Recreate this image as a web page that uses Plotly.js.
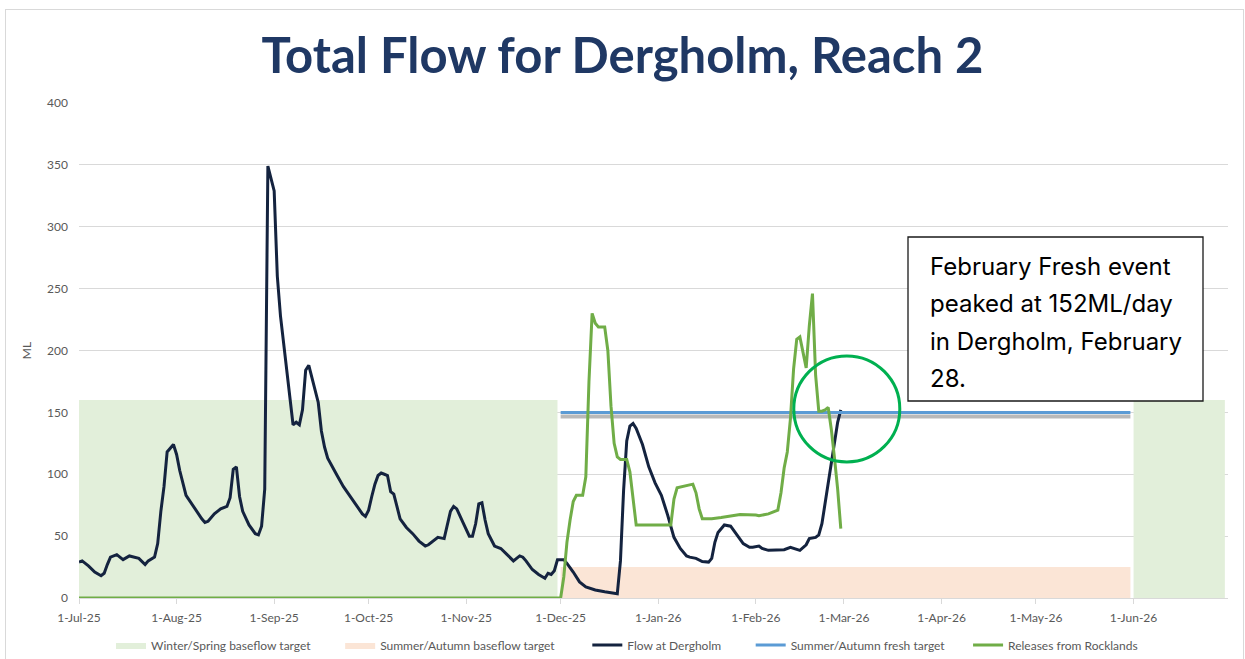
<!DOCTYPE html>
<html>
<head>
<meta charset="utf-8">
<script src="https://cdn.plot.ly/plotly-3.0.1.min.js"></script>
<style>
html,body{margin:0;padding:0;background:#fff;}
#chart{width:1245px;height:659px;}
#frame{position:absolute;left:5px;top:9px;width:1237px;height:700px;border:1px solid #d9d9d9;pointer-events:none;}
</style>
</head>
<body>
<div id="chart"></div>
<div id="frame"></div>
<script>
// ---------- data ----------
const flowDates = ['2025-07-01','2025-07-02','2025-07-04','2025-07-06','2025-07-08','2025-07-09','2025-07-10','2025-07-11','2025-07-13','2025-07-15','2025-07-17','2025-07-19','2025-07-20','2025-07-22','2025-07-23','2025-07-25','2025-07-26','2025-07-27','2025-07-28','2025-07-29','2025-07-31',
'2025-08-01','2025-08-02','2025-08-04','2025-08-05','2025-08-07','2025-08-09','2025-08-10','2025-08-11','2025-08-13','2025-08-15','2025-08-17','2025-08-18','2025-08-19','2025-08-20','2025-08-21','2025-08-22','2025-08-24','2025-08-26','2025-08-27','2025-08-28','2025-08-29','2025-08-30',
'2025-09-01','2025-09-02','2025-09-03','2025-09-04','2025-09-05','2025-09-06','2025-09-07','2025-09-08','2025-09-09','2025-09-10','2025-09-11','2025-09-12','2025-09-13','2025-09-14','2025-09-15','2025-09-16','2025-09-17','2025-09-18','2025-09-19','2025-09-21','2025-09-23','2025-09-25','2025-09-27','2025-09-29','2025-09-30',
'2025-10-01','2025-10-02','2025-10-03','2025-10-04','2025-10-05','2025-10-06','2025-10-07','2025-10-08','2025-10-09','2025-10-10','2025-10-11','2025-10-13','2025-10-15','2025-10-17','2025-10-19','2025-10-20','2025-10-21','2025-10-23','2025-10-25','2025-10-26','2025-10-27','2025-10-28','2025-10-29','2025-10-31',
'2025-11-02','2025-11-03','2025-11-04','2025-11-05','2025-11-06','2025-11-07','2025-11-08','2025-11-10','2025-11-12','2025-11-14','2025-11-16','2025-11-18','2025-11-19','2025-11-20','2025-11-22','2025-11-24','2025-11-26','2025-11-27','2025-11-28','2025-11-29','2025-11-30',
'2025-12-02','2025-12-03','2025-12-05','2025-12-07','2025-12-09','2025-12-12','2025-12-15','2025-12-18','2025-12-19','2025-12-20','2025-12-21','2025-12-22','2025-12-23','2025-12-24','2025-12-25','2025-12-27','2025-12-29','2025-12-31',
'2026-01-02','2026-01-04','2026-01-06','2026-01-08','2026-01-10','2026-01-11','2026-01-13','2026-01-15','2026-01-17','2026-01-18','2026-01-19','2026-01-20','2026-01-22','2026-01-24','2026-01-26','2026-01-28','2026-01-30','2026-01-31',
'2026-02-02','2026-02-03','2026-02-05','2026-02-08','2026-02-10','2026-02-12','2026-02-13','2026-02-15','2026-02-17','2026-02-18','2026-02-20','2026-02-21','2026-02-22','2026-02-23','2026-02-24','2026-02-25','2026-02-26','2026-02-27','2026-02-28'];
const flowValues = [29,30,26,21,18,20,27,33,35,31,34,33,32,27,30,33,44,70,90,118,124,
116,103,83,79,71,64,61,62,68,72,74,81,104,106,82,70,59,52,51,58,88,349,
329,260,228,206,180,158,140,142,140,152,184,188,178,168,158,135,122,113,108,99,90,83,76,68,66,
71,82,92,99,101,100,99,86,84,74,64,57,52,46,42,43,45,49,48,58,70,74,72,61,
50,50,60,76,77,63,52,42,40,35,30,34,33,30,23,19,16,20,19,22,31,
31,28,21,13,9,6.5,5,3.5,3.5,30,87,127,139,141,137,124,106,93,
83,67,49,40,34,33,32,29.5,29,32,45,53,59,58,51,44,41,41,
42,40,38.5,39,39,41,40,38.5,43,48,49,51,60,77,92,110,128,142,152];

const releaseDates = ['2025-07-01','2025-12-01','2025-12-02','2025-12-03','2025-12-04','2025-12-05','2025-12-06','2025-12-08','2025-12-09','2025-12-10','2025-12-11','2025-12-12','2025-12-13','2025-12-15','2025-12-16','2025-12-17','2025-12-18','2025-12-19','2025-12-20','2025-12-22','2025-12-23','2025-12-24','2025-12-25',
'2026-01-05','2026-01-06','2026-01-07','2026-01-12','2026-01-13','2026-01-14','2026-01-15','2026-01-18','2026-01-21','2026-01-25','2026-01-27',
'2026-02-01','2026-02-02','2026-02-05','2026-02-08','2026-02-09','2026-02-10','2026-02-11','2026-02-12','2026-02-13','2026-02-14','2026-02-15','2026-02-16','2026-02-17','2026-02-18','2026-02-19','2026-02-20','2026-02-21','2026-02-22','2026-02-23','2026-02-24','2026-02-25','2026-02-26','2026-02-27','2026-02-28'];
const releaseValues = [0,0,17,45,63,78,83,83,98,175,230,222,219,219,200,155,125,114,112,112,102,78,59,
59,80,89,92,85,72,64,64,65,67,67.5,
67,66.5,68,71,85,105,118,145,185,209,211,197,186,220,246,180,151,151,152,154,136,113,88,56];

const winterDates1 = ['2025-07-01','2025-11-30'];
const winterValues1 = [160,160];
const winterDates2 = ['2026-06-01','2026-06-30'];
const winterValues2 = [160,160];
const summerDates = ['2025-12-01','2026-05-31'];
const summerValues = [25,25];
const freshDates = ['2025-12-01','2026-05-31'];
const freshValues = [150,150];

const seriesNames = ['Winter/Spring baseflow target','Summer/Autumn baseflow target','Flow at Dergholm','Summer/Autumn fresh target','Releases from Rocklands'];

const tickDates = ['2025-07-01','2025-08-01','2025-09-01','2025-10-01','2025-11-01','2025-12-01','2026-01-01','2026-02-01','2026-03-01','2026-04-01','2026-05-01','2026-06-01'];
const tickLabels = ['1-Jul-25','1-Aug-25','1-Sep-25','1-Oct-25','1-Nov-25','1-Dec-25','1-Jan-26','1-Feb-26','1-Mar-26','1-Apr-26','1-May-26','1-Jun-26'];

const noteLines = ['February Fresh event','peaked at 152ML/day','in Dergholm, February','28.'];

// ---------- traces ----------
const pad = n => '\u00a0'.repeat(n);
const greenFill = '#E2EFDA', peachFill = '#FBE5D6';
const traces = [
  {x: winterDates1, y: winterValues1, type:'scatter', mode:'lines', fill:'tozeroy', fillcolor:greenFill,
   line:{width:0,color:greenFill}, name:seriesNames[0] + pad(8), legendgroup:'ws', yaxis:'y'},
  {x: winterDates2, y: winterValues2, type:'scatter', mode:'lines', fill:'tozeroy', fillcolor:greenFill,
   line:{width:0,color:greenFill}, name:seriesNames[0], legendgroup:'ws', showlegend:false, yaxis:'y'},
  {x: summerDates, y: summerValues, type:'scatter', mode:'lines', fill:'tozeroy', fillcolor:peachFill,
   line:{width:0,color:peachFill}, name:seriesNames[1] + pad(9), yaxis:'y'},
  {x: freshDates, y: freshValues, type:'scatter', mode:'lines', line:{width:4,color:'rgba(100,100,100,0.45)'},
   showlegend:false, yaxis:'y2'},
  {x: flowDates, y: flowValues, type:'scatter', mode:'lines', line:{width:3,color:'#14233f'},
   name:seriesNames[2] + pad(8), yaxis:'y3'},
  {x: freshDates, y: freshValues, type:'scatter', mode:'lines', line:{width:3,color:'#5B9BD5'},
   name:seriesNames[3] + pad(6), yaxis:'y3'},
  {x: releaseDates, y: releaseValues, type:'scatter', mode:'lines', line:{width:3,color:'#70AD47'},
   name:seriesNames[4], yaxis:'y3'}
];

const L = 79, R = 17, T = 103, B = 61;
const PW = 1245 - L - R, PH = 659 - T - B;
const px2x = p => (p - L) / PW;
const px2y = p => (659 - B - p) / PH;

const annotations = noteLines.map((t, i) => ({
  xref:'paper', yref:'paper', x: px2x(928), y: px2y([266,303,341,378][i]),
  xanchor:'left', yanchor:'middle', showarrow:false, text:t, align:'left',
  font:{family:'Inter, Noto Sans, sans-serif', size:24, color:'#000'}
}));

const lastI = flowDates.length - 1;
const shapes = [
  {type:'rect', xref:'paper', yref:'paper', x0:px2x(908), x1:px2x(1203), y0:px2y(401), y1:px2y(237),
   line:{color:'#1a1a1a', width:1.3}, fillcolor:'#ffffff', layer:'above'},
  {type:'circle', xref:'x', yref:'y', xsizemode:'pixel', ysizemode:'pixel',
   xanchor: flowDates[lastI], yanchor: flowValues[lastI],
   x0:-47, x1:59, y0:-52, y1:54, line:{color:'#00B050', width:3}, layer:'above'}
];

const tickFont = {family:'Lato, sans-serif', size:12, color:'#595959'};
const shadowShift = 4 * 400 / PH;

const layout = {
  width:1245, height:659,
  margin:{l:L, r:R, t:T, b:B, autoexpand:false},
  paper_bgcolor:'#ffffff', plot_bgcolor:'#ffffff',
  title:{text:'Total Flow for Dergholm, Reach 2', x:0.5, xanchor:'center', xref:'container',
         y:1 - 56/659, yanchor:'middle', yref:'container',
         font:{family:'Lato, sans-serif', size:49, color:'#1F3864', weight:'bold'}},
  xaxis:{type:'date', range:['2025-07-01','2026-07-01'], tickvals:tickDates, ticktext:tickLabels,
         showgrid:false, zeroline:false, showline:true, linecolor:'#d9d9d9', linewidth:1,
         ticks:'outside', ticklen:5, tickcolor:'#d9d9d9', tickfont:tickFont, ticklabelstandoff:4},
  yaxis:{range:[0,400], dtick:50, showgrid:true, gridcolor:'#d9d9d9', gridwidth:1, zeroline:false,
         showline:false, ticks:'', tickfont:tickFont, ticklabelstandoff:10,
         title:{text:'ML', font:{family:'Lato, sans-serif', size:12, color:'#595959'}, standoff:12}},
  yaxis2:{range:[shadowShift, 400 + shadowShift], overlaying:'y', visible:false, showgrid:false, zeroline:false},
  yaxis3:{range:[0,400], overlaying:'y', visible:false, showgrid:false, zeroline:false},
  legend:{orientation:'h', x:px2x(627), xanchor:'center', y:px2y(645), yanchor:'middle',
          font:{family:'Lato, sans-serif', size:12, color:'#595959'}, bgcolor:'rgba(0,0,0,0)'},
  showlegend:true,
  annotations: annotations,
  shapes: shapes,
  hovermode:false
};

Plotly.newPlot('chart', traces, layout, {displayModeBar:false, staticPlot:true});
</script>
</body>
</html>
